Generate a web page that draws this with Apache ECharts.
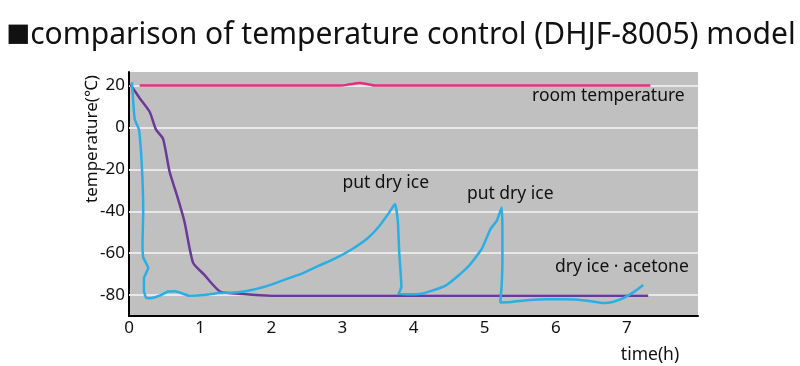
<!DOCTYPE html>
<html>
<head>
<meta charset="utf-8">
<script src="https://cdn.jsdelivr.net/npm/echarts@6/dist/echarts.min.js"></script>
<style>
html,body{margin:0;padding:0;background:#fff;}
#c{width:800px;height:366px;}
</style>
</head>
<body>
<div id="c"></div>
<script>
// ---- data ----
var titleMark = '■';
var titleText = 'comparison of temperature control (DHJF-8005) model';
var xTickLabels = [0, 1, 2, 3, 4, 5, 6, 7];
var yTickLabels = [20, 0, -20, -40, -60, -80];
var roomTemp = [[0.15, 20], [2.98, 20], [3.1, 20.6], [3.24, 21.2], [3.36, 20.7], [3.46, 20], [7.33, 20]];
var dryIceAcetone = [[0.02, 20.5], [0.15, 14], [0.29, 7.5], [0.38, -1], [0.48, -5.5], [0.57, -21], [0.68, -33], [0.78, -45], [0.9, -64.5], [1.05, -70], [1.28, -78.3], [1.6, -79.5], [2.0, -80.3], [7.3, -80.3]];
var dryIce = [[0.04, 21.6], [0.05, 17], [0.08, 4], [0.14, -1], [0.17, -12], [0.19, -25], [0.2, -40], [0.19, -55], [0.2, -62], [0.27, -67], [0.21, -72], [0.21, -78], [0.24, -81.2], [0.3, -81.5], [0.43, -80.3], [0.55, -78.3], [0.65, -78.2], [0.85, -80.3], [1.05, -80], [1.27, -79], [1.5, -78.8], [1.74, -77.5], [2.0, -75], [2.21, -72.4], [2.45, -69.5], [2.67, -66], [2.9, -62.5], [3.14, -58], [3.35, -53], [3.52, -47], [3.65, -41], [3.74, -36.5], [3.78, -45], [3.8, -60], [3.82, -70], [3.83, -76], [3.79, -79.5], [3.9, -79.6], [4.08, -79.5], [4.25, -78], [4.45, -75.5], [4.62, -71], [4.78, -66], [4.96, -58], [5.08, -48.6], [5.17, -44.6], [5.24, -38.2], [5.25, -50], [5.25, -63], [5.24, -75], [5.22, -83.5], [5.38, -83.3], [5.6, -82.5], [5.85, -82], [6.1, -82], [6.32, -82.2], [6.5, -83], [6.67, -83.8], [6.8, -83.3], [6.95, -81.5], [7.1, -78.5], [7.23, -75.2]];
var annotTexts = ['room temperature', 'put dry ice', 'put dry ice', 'dry ice · acetone'];
var annotX = [6.74, 3.61, 5.36, 6.93];
var annotY = [14.8, -26.7, -31.9, -66.7];
var xName = 'time(h)';
var yName = 'temperature(℃)';

var FONT = '"Noto Sans", sans-serif';
var chart = echarts.init(document.getElementById('c'), null, {renderer: 'canvas'});
var option = {
  animation: false,
  title: {
    text: '{sq|' + titleMark + '}{t|' + titleText + '}', left: 1, top: 10,
    textStyle: {
      fontFamily: FONT, fontSize: 30, fontWeight: 'normal', color: '#111',
      rich: {
        sq: {fontFamily: FONT, fontSize: 40, color: '#111', verticalAlign: 'middle', lineHeight: 40},
        t: {fontFamily: FONT, fontSize: 30, color: '#111', verticalAlign: 'middle', lineHeight: 40}
      }
    }
  },
  grid: {left: 129, right: 102, top: 72, bottom: 50, show: true, backgroundColor: '#c0c0c0', borderWidth: 0},
  xAxis: {
    type: 'value', min: 0, max: 8, interval: 1,
    axisLine: {show: true, onZero: false, lineStyle: {color: '#000', width: 2}},
    axisTick: {show: false},
    splitLine: {show: false},
    axisLabel: {
      color: '#111', fontFamily: FONT, fontSize: 17, margin: 4,
      customValues: xTickLabels
    }
  },
  yAxis: {
    type: 'value', min: -90, max: 26.5,
    axisLine: {show: true, lineStyle: {color: '#000', width: 2}},
    axisTick: {show: true, inside: true, length: 3, customValues: yTickLabels, lineStyle: {color: '#000', width: 1.5}},
    splitLine: {show: false},
    axisLabel: {
      color: '#111', fontFamily: FONT, fontSize: 17, margin: 4,
      customValues: yTickLabels
    }
  },
  series: [
    {
      name: 'grid', type: 'line', data: [], z: 1, silent: true,
      markLine: {
        silent: true, symbol: 'none', label: {show: false}, z: 1,
        lineStyle: {color: '#e8e8e8', type: 'solid', width: 2},
        data: yTickLabels.map(function (v) { return {yAxis: v}; })
      }
    },
    {name: 'room temperature', type: 'line', data: roomTemp, z: 3, showSymbol: false, smooth: 0.3,
     lineStyle: {color: '#e2307f', width: 2.5}},
    {name: 'dry ice · acetone', type: 'line', data: dryIceAcetone, z: 3, showSymbol: false, smooth: 0.2,
     lineStyle: {color: '#6a3a98', width: 2.5}},
    {name: 'put dry ice', type: 'line', data: dryIce, z: 4, showSymbol: false, smooth: 0.15,
     lineStyle: {color: '#2aaee3', width: 2.5}}
  ]
};
chart.setOption(option);

var gfx = [];
for (var i = 0; i < annotTexts.length; i++) {
  var p = chart.convertToPixel({gridIndex: 0}, [annotX[i], annotY[i]]);
  gfx.push({type: 'text', x: p[0], y: p[1], z: 10,
    style: {text: annotTexts[i], fill: '#111', font: '17.5px ' + FONT, align: 'center', verticalAlign: 'middle'}});
}
gfx.push({type: 'text', x: 650, y: 355, z: 10,
  style: {text: xName, fill: '#111', font: '17.5px ' + FONT, align: 'center', verticalAlign: 'middle'}});
gfx.push({type: 'text', x: 92, y: 139, rotation: Math.PI / 2, z: 10,
  style: {text: yName, fill: '#111', font: '17px ' + FONT, align: 'center', verticalAlign: 'middle'}});
chart.setOption({graphic: gfx});
</script>
</body>
</html>
